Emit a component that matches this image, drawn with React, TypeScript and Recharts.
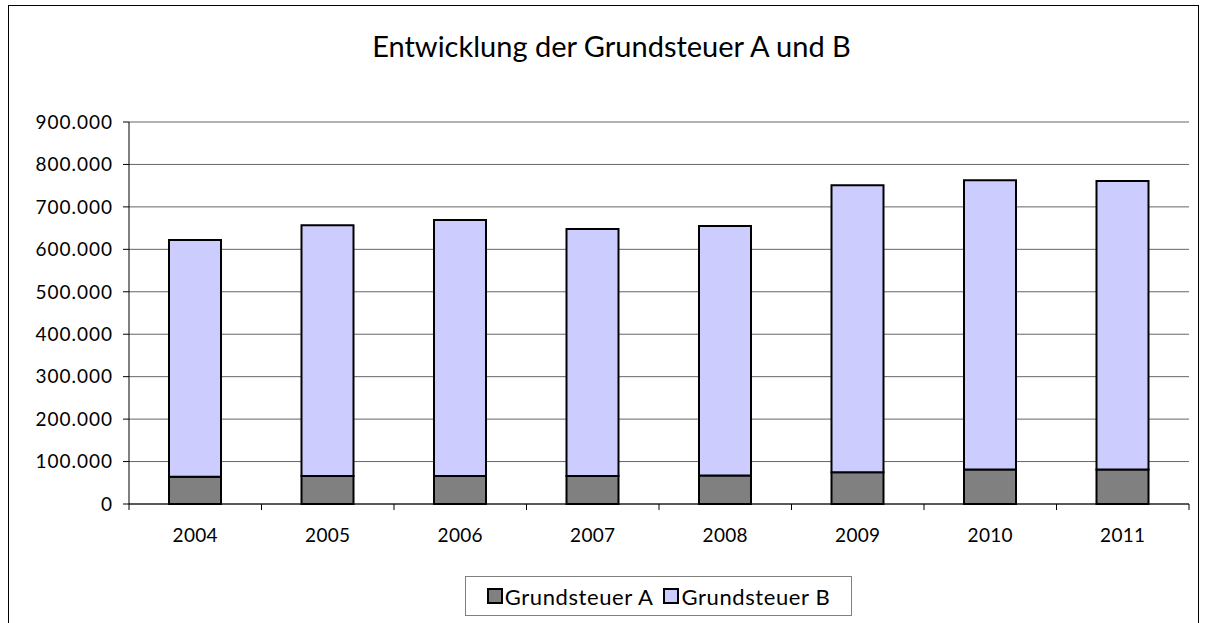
import { BarChart, Bar, XAxis, YAxis, CartesianGrid } from 'recharts';

const years = ['2004', '2005', '2006', '2007', '2008', '2009', '2010', '2011'];
const steuerA = [64000, 66000, 66000, 66000, 67000, 75000, 81000, 81000];
const steuerB = [558000, 591000, 603000, 582000, 588000, 676000, 682000, 680000];
const yTicks = [0, 100000, 200000, 300000, 400000, 500000, 600000, 700000, 800000, 900000];

const data = years.map((year, i) => ({ year, a: steuerA[i], b: steuerB[i] }));

const FONT = 'Lato, "Open Sans", sans-serif';

// German thousands separator: 900000 -> 900.000
const fmt = (v: number) => String(v).replace(/\B(?=(\d{3})+(?!\d))/g, '.');

function YearTick(props: any) {
  const { x, y, payload, index } = props;
  const half = 132.5 / 2;
  return (
    <g>
      <line x1={x - half} x2={x - half} y1={y} y2={y + 6} stroke="#000" />
      {index === years.length - 1 && (
        <line x1={x + half} x2={x + half} y1={y} y2={y + 6} stroke="#000" />
      )}
      <text x={x} y={y + 38} textAnchor="middle" fontSize={19} fontFamily={FONT} letterSpacing={0.3} fill="#000">
        {payload.value}
      </text>
    </g>
  );
}

function LegendBox() {
  const item = (color: string, label: string) => (
    <div style={{ display: 'flex', alignItems: 'center', flexShrink: 0 }}>
      <span style={{ width: 12, height: 12, background: color, border: '2px solid #000', marginRight: 2 }} />
      <span style={{ whiteSpace: 'nowrap' }}>{label}</span>
    </div>
  );
  return (
    <div
      style={{
        position: 'absolute', left: 456, top: 570, width: 385, height: 38,
        border: '1px solid #808080', display: 'flex', alignItems: 'center', justifyContent: 'center',
        gap: 10, fontFamily: FONT, fontSize: 22, letterSpacing: 0.6, color: '#000', background: '#fff',
      }}
    >
      {item('#808080', 'Grundsteuer A')}
      {item('#CCCCFF', 'Grundsteuer B')}
    </div>
  );
}

export default function App() {
  return (
    <div
      style={{
        position: 'absolute', left: 8, top: 5, width: 1189, height: 640,
        border: '1px solid #000', background: '#fff',
      }}
    >
      <div
        style={{
          position: 'absolute', left: 8, top: 23, width: '100%', textAlign: 'center',
          fontFamily: FONT, fontSize: 29, lineHeight: '34px', color: '#000',
        }}
      >
        Entwicklung der Grundsteuer A und B
      </div>
      <BarChart
        width={1189}
        height={617}
        data={data}
        margin={{ top: 116, right: 9, left: 0, bottom: 89 }}
        barSize={52}
      >
        <CartesianGrid vertical={false} stroke="#666" />
        <XAxis
          dataKey="year"
          height={30}
          tickLine={false}
          tickSize={0}
          tickMargin={0}
          axisLine={{ stroke: '#000' }}
          tick={<YearTick />}
          interval={0}
        />
        <YAxis
          width={120}
          domain={[0, 900000]}
          ticks={yTicks}
          tickFormatter={fmt}
          tickSize={6}
          tickMargin={10}
          tickLine={{ stroke: '#000' }}
          axisLine={{ stroke: '#000' }}
          tick={{ fill: '#000', fontSize: 19, fontFamily: FONT, letterSpacing: 1 }}
          interval={0}
        />
        <YAxis
          yAxisId="r"
          orientation="right"
          width={0}
          domain={[0, 900000]}
          tick={false}
          tickLine={false}
          axisLine={{ stroke: '#888' }}
        />
        <Bar dataKey="a" stackId="s" fill="#808080" stroke="#000" strokeWidth={2} isAnimationActive={false} />
        <Bar dataKey="b" stackId="s" fill="#CCCCFF" stroke="#000" strokeWidth={2} isAnimationActive={false} />
      </BarChart>
      <LegendBox />
    </div>
  );
}
